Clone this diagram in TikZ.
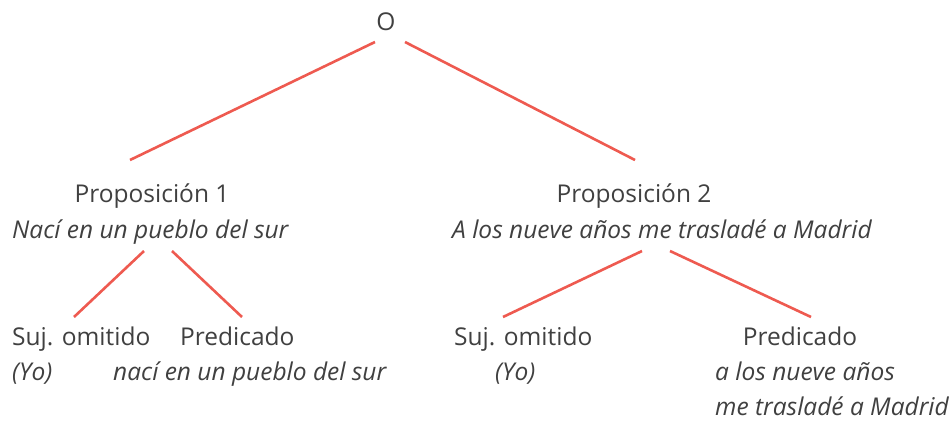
\documentclass[tikz,border=0pt]{standalone}
\usepackage{fontspec}
\setmainfont{Open Sans}
\definecolor{txt}{HTML}{404040}
\definecolor{ln}{HTML}{EE5A50}
\begin{document}
\begin{tikzpicture}[x=1pt,y=-1pt,
  lab/.style={inner sep=0pt,text=txt,font=\fontsize{24.5}{28}\selectfont},
  ilab/.style={lab,font=\fontsize{24.5}{28}\selectfont\itshape},
  branch/.style={draw=ln,line width=2.6pt}]
\useasboundingbox (0,0) rectangle (949,423);
% labels
\node[lab,anchor=base] (O) at (386,30) {O};
\node[lab,anchor=base] (p1) at (152,202) {Proposición 1};
\node[ilab,anchor=base west] (p1t) at (12,238) {Nací en un pueblo del sur};
\node[lab,anchor=base] (p2) at (634,202) {Proposición 2};
\node[ilab,anchor=base] (p2t) at (662,238) {A los nueve años me trasladé a Madrid};
\node[lab,anchor=base west] (s1) at (12,345) {Suj. omitido};
\node[ilab,anchor=base west] (s1t) at (12,380) {(Yo)};
\node[lab,anchor=base west] (r1) at (180,345) {Predicado};
\node[ilab,anchor=base west] (r1t) at (113,380) {nací en un pueblo del sur};
\node[lab,anchor=base west] (s2) at (454,345) {Suj. omitido};
\node[ilab,anchor=base west] (s2t) at (495,380) {(Yo)};
\node[lab,anchor=base] (r2) at (800,345) {Predicado};
\node[ilab,anchor=base west] (r2a) at (715,380) {a los nueve años};
\node[ilab,anchor=base west] (r2b) at (715,415) {me trasladé a Madrid};
% connector ends
\coordinate (Ol) at (375,42);
\coordinate (Or) at (405,42);
\coordinate (p1top) at (130,160);
\coordinate (p2top) at (635,160);
\coordinate (p1l) at (144,251);
\coordinate (p1r) at (172,251);
\coordinate (s1top) at (74,317);
\coordinate (r1top) at (242,317);
\coordinate (p2l) at (642,251);
\coordinate (p2r) at (670,251);
\coordinate (s2top) at (503,317);
\coordinate (r2top) at (811,317);
\draw[branch] (Ol) -- (p1top);
\draw[branch] (Or) -- (p2top);
\draw[branch] (p1l) -- (s1top);
\draw[branch] (p1r) -- (r1top);
\draw[branch] (p2l) -- (s2top);
\draw[branch] (p2r) -- (r2top);
\end{tikzpicture}
\end{document}
